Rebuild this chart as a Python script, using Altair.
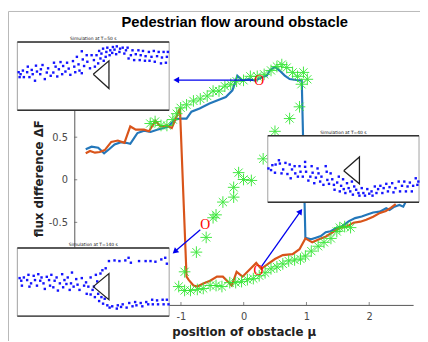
import altair as alt
import pandas as pd

# ---------------- main curves (position of obstacle mu, flux difference dF) ----------------
blue_mu = [-2.518, -2.424, -2.319, -2.225, -2.136, -2.058, -1.955, -1.876, -1.808, -1.745,
           -1.693, -1.588, -1.485, -1.380, -1.275, -1.197, -1.099, -1.005, -0.911, -0.833,
           -0.703, -0.546, -0.415, -0.285, -0.180, -0.102, -0.023, 0.080, 0.185, 0.290,
           0.368, 0.419, 0.498, 0.576, 0.654, 0.732, 0.837, 0.925,
           0.983, 1.072, 1.150, 1.229, 1.307, 1.385, 1.488, 1.567, 1.671, 1.776,
           1.880, 1.958, 2.063, 2.168, 2.271, 2.324, 2.402, 2.481, 2.543, 2.595]
blue_dF = [0.358, 0.388, 0.376, 0.311, 0.364, 0.415, 0.442, 0.434, 0.422, 0.491,
           0.549, 0.577, 0.561, 0.588, 0.607, 0.626, 0.707, 0.719, 0.719, 0.799,
           0.837, 0.895, 0.934, 0.972, 1.050, 1.223, 1.165, 1.183, 1.165, 1.203,
           1.223, 1.287, 1.326, 1.280, 1.223, 1.183, 1.172, 1.165,
           -0.681, -0.700, -0.681, -0.662, -0.616, -0.604, -0.565, -0.547, -0.489, -0.450,
           -0.431, -0.412, -0.385, -0.374, -0.334, -0.354, -0.316, -0.296, -0.316, -0.239]

orange_mu = [-2.518, -2.449, -2.371, -2.293, -2.214, -2.111, -2.006, -1.901, -1.808, -1.720,
             -1.588, -1.510, -1.407, -1.329, -1.224, -1.146, -1.016,
             -0.911, -0.880, -0.801, -0.739, -0.645, -0.535, -0.426, -0.332, -0.254, -0.191,
             -0.113, -0.019, 0.091, 0.200, 0.279, 0.388, 0.498, 0.623, 0.779, 0.889,
             0.983, 1.092, 1.202, 1.311, 1.437, 1.546, 1.640, 1.750, 1.859, 1.953,
             2.063, 2.172, 2.266, 2.344, 2.423]
orange_dF = [0.311, 0.338, 0.318, 0.326, 0.349, 0.445, 0.461, 0.434, 0.626, 0.588,
             0.588, 0.569, 0.692, 0.626, 0.638, 0.607, 0.837,
             -1.138, -1.173, -1.242, -1.254, -1.219, -1.185, -1.138, -1.138, -1.196, -1.242,
             -1.081, -1.138, -1.058, -0.977, -1.046, -0.988, -0.931, -0.885, -0.873, -0.815,
             -0.689, -0.735, -0.700, -0.666, -0.608, -0.562, -0.550, -0.504, -0.492, -0.469,
             -0.435, -0.389, -0.366, -0.331, -0.285]

star_mu = [-1.490, -1.412, -1.318, -1.224, -1.130, -1.067, -1.005, -0.911, -0.801, -0.692,
           -0.582, -0.488, -0.394, -0.300, -0.207, -0.113, -0.003, 0.106, 0.216, 0.326,
           0.435, 0.529, 0.607, 0.685, 0.779, 0.858, 0.952, 1.014, 0.920, 0.889,
           0.732, 0.498, 0.310, 0.122, -0.003, -0.081, -0.160, -0.160, -0.332, -0.441,
           -0.488, -0.598, -0.754, -0.942, -1.036, -0.942, -0.848, -0.739, -0.645, -0.535,
           -0.441, -0.347, -0.222, -0.128, -0.034, 0.059, 0.153, 0.247, 0.341, 0.435,
           0.529, 0.623, 0.717, 0.811, 0.905, 0.983, 1.077, 1.186, 1.280, 1.390,
           1.484, 1.531, 1.609, 1.703]
star_dF = [0.661, 0.684, 0.638, 0.638, 0.707, 0.776, 0.845, 0.880, 0.926, 0.949,
           0.984, 1.042, 1.042, 1.099, 1.122, 1.157, 1.168, 1.215, 1.215, 1.238,
           1.284, 1.330, 1.353, 1.318, 1.261, 1.215, 1.261, 1.180, 1.122, 0.857,
           0.719, 0.569, 0.246, -0.008, 0.003, 0.084, -0.089, -0.204, -0.262, -0.412,
           -0.446, -0.677, -0.850, -1.081, -1.254, -1.300, -1.300, -1.288, -1.277, -1.242,
           -1.242, -1.254, -1.208, -1.208, -1.196, -1.173, -1.161, -1.127, -1.092, -1.046,
           -1.023, -0.988, -0.954, -0.942, -0.931, -0.896, -0.838, -0.781, -0.735, -0.689,
           -0.608, -0.562, -0.550, -0.562]

# red "O" markers and arrows pointing to the snapshots
o_mu = [0.247, -0.613, 0.236]
o_dF = [1.165, -0.527, -1.077]
arrow_id = [1, 1, 2, 2, 3, 3]
arrow_mu = [0.153, -1.075, -0.692, -1.097, 0.279, 0.905]
arrow_dF = [1.171, 1.171, -0.587, -0.843, -1.023, -0.371]
head_mu = [-1.075, -1.097, 0.905]
head_dF = [1.171, -0.843, -0.371]
head_angle = [270, 229, 35]

x_ticks = [-1, 0, 1, 2]
y_ticks = [-1, -0.5, 0, 0.5, 1, 1.5]

# ---------------- inset snapshots (pedestrian positions) ----------------
A_x = [0.4, 1.0, 0.7, 2.0, 1.7, 3.2, 3.0, 3.7, 4.7, 4.4,
       5.4, 5.7, 6.0, 7.0, 7.2, 7.7, 8.4, 9.0, 9.4, 10.2,
       11.0, 11.2, 11.7, 12.2, 12.7, 13.2, 13.7, 14.0, 14.7, 15.2,
       15.7, 16.2, 17.0, 17.4, 17.7, 18.2, 18.7, 19.0, 19.7, 19.7,
       20.0, 20.4, 21.2, 21.4, 22.2, 22.7, 23.4, 23.7, 24.2, 24.7,
       25.0, 25.4, 25.7, 26.2, 26.4, 27.0, 27.2, 27.5, 28.2, 28.4,
       29.0, 29.2, 29.7, 30.2, 30.4, 31.2, 31.4, 32.2, 32.7, 33.2,
       33.7, 34.0, 34.7, 35.2, 35.7, 36.2, 37.0, 37.4, 37.7, 38.4,
       39.0, 39.2, 40.2, 40.4, 41.0, 41.7, 42.0, 42.7, 43.2, 43.9,
       44.2, 44.7, 45.4, 45.7, 46.0]
A_y = [11.6, 11.0, 10.1, 10.1, 12.1, 13.3, 11.6, 10.1, 11.0, 12.3,
       9.0, 13.6, 11.8, 11.0, 12.5, 13.8, 9.5, 11.5, 12.8, 10.5,
       11.5, 14.5, 13.3, 10.3, 12.5, 14.7, 11.0, 13.5, 11.8, 14.5,
       12.7, 10.8, 15.0, 13.3, 11.6, 16.3, 14.0, 12.1, 11.3, 18.0,
       15.5, 13.5, 16.8, 14.8, 12.8, 16.8, 15.3, 13.3, 16.8, 14.3,
       18.1, 15.8, 17.3, 18.8, 15.1, 16.3, 17.8, 19.1, 16.8, 18.3,
       17.5, 19.3, 18.5, 17.1, 19.5, 17.8, 18.8, 19.1, 17.3, 18.3,
       19.1, 15.8, 16.8, 18.3, 15.3, 17.1, 18.3, 15.3, 16.8, 18.1,
       15.1, 16.5, 17.8, 15.1, 16.3, 18.1, 14.8, 16.5, 17.8, 14.3,
       16.1, 17.8, 14.5, 16.3, 17.8]
A_tri_x = [23.2, 28.0, 28.0, 23.2]
A_tri_y = [11.0, 15.1, 6.6, 11.0]

B_x = [0.2, 1.0, 1.4, 2.4, 2.2, 3.4, 3.7, 4.2, 4.7, 5.4,
       6.0, 6.7, 7.0, 7.4, 8.2, 8.4, 9.2, 9.7, 10.0, 10.7,
       11.4, 11.4, 11.7, 12.4, 13.0, 13.4, 13.7, 14.2, 14.7, 15.2,
       15.5, 16.0, 16.4, 17.0, 17.7, 18.0, 18.2, 18.7, 19.2, 19.7,
       20.2, 20.4, 21.2, 21.7, 22.0, 22.4, 23.0, 23.2, 23.7, 24.2,
       24.7, 25.2, 25.7, 26.0, 26.4, 27.0, 27.7, 28.0, 28.7, 29.2,
       29.7, 30.4, 31.0, 31.7, 32.0, 32.7, 33.2, 33.7, 34.4, 35.0,
       35.4, 36.2, 36.7, 37.2, 38.0, 38.4, 39.0, 40.0, 40.4, 41.0,
       41.7, 42.2, 42.7, 43.4, 44.0, 44.4, 45.2, 45.7, 46.0]
B_y = [10.3, 9.8, 11.3, 11.5, 9.0, 12.8, 11.8, 8.8, 10.0, 12.0,
       8.6, 11.5, 7.3, 10.0, 11.0, 8.8, 7.8, 11.0, 9.3, 7.8,
       12.3, 10.8, 9.3, 6.6, 7.8, 11.0, 9.0, 5.8, 7.5, 10.3,
       8.8, 6.3, 7.8, 5.3, 11.0, 9.3, 6.8, 5.6, 8.8, 7.0,
       5.3, 3.8, 6.0, 7.8, 3.3, 5.0, 7.0, 4.0, 2.8, 5.8,
       4.3, 3.3, 6.3, 2.3, 4.8, 3.8, 2.8, 2.0, 4.3, 2.8,
       2.0, 4.0, 2.6, 3.3, 2.0, 4.8, 2.8, 4.0, 5.0, 2.8,
       4.3, 5.6, 3.3, 4.6, 5.8, 3.0, 4.3, 6.3, 3.3, 5.0,
       6.3, 3.3, 4.8, 6.0, 3.3, 5.0, 7.3, 5.3, 6.3]
B_tri_x = [23.2, 28.0, 28.0, 23.2]
B_tri_y = [9.6, 13.8, 5.6, 9.6]

C_x = [0.7, 1.2, 1.4, 2.0, 3.0, 3.4, 3.7, 4.2, 5.0, 5.4,
       6.0, 6.4, 7.0, 7.4, 8.0, 8.4, 9.0, 9.7, 10.0, 10.4,
       11.0, 11.4, 12.0, 12.4, 13.0, 13.7, 14.0, 14.4, 15.0, 15.4,
       16.0, 16.4, 16.7, 17.2, 18.0, 18.4, 19.0, 19.7, 20.4, 21.0,
       21.2, 21.7, 22.4, 22.4, 23.0, 23.4, 23.7, 24.0, 24.4, 24.7,
       25.0, 25.4, 25.7, 26.0, 26.2, 26.7, 27.0, 27.5, 28.0, 28.2,
       29.0, 29.7, 30.4, 30.7, 31.2, 31.7, 32.2, 33.0, 33.4, 34.0,
       34.2, 34.7, 35.2, 36.0, 36.4, 37.2, 37.7, 38.2, 39.2, 39.4,
       40.0, 40.7, 41.2, 41.4, 42.2, 42.7, 43.0, 44.0, 44.4, 44.7,
       45.2, 45.7, 45.7, 46.2]
C_y = [11.6, 10.8, 9.3, 11.8, 11.0, 12.6, 9.0, 10.0, 12.3, 11.0,
       9.3, 12.8, 10.8, 11.8, 10.0, 8.3, 12.0, 11.0, 9.3, 12.6,
       8.8, 10.8, 11.8, 7.8, 10.0, 12.8, 8.8, 11.0, 9.8, 11.8,
       8.0, 10.0, 13.3, 9.0, 11.3, 9.6, 8.0, 11.6, 9.3, 10.3,
       6.8, 9.0, 11.8, 6.6, 8.0, 9.0, 5.8, 12.6, 10.6, 6.8,
       4.6, 13.0, 5.8, 14.0, 3.8, 5.3, 14.6, 3.3, 16.8, 2.6,
       3.0, 17.0, 2.3, 3.3, 16.8, 2.8, 3.6, 17.0, 2.6, 17.8,
       4.0, 16.3, 3.0, 4.3, 3.3, 16.8, 4.0, 3.0, 16.8, 4.3,
       3.6, 16.8, 5.0, 3.6, 16.6, 4.8, 3.6, 17.3, 5.0, 3.6,
       17.8, 16.0, 5.0, 3.6]
C_tri_x = [23.2, 28.0, 28.0, 23.2]
C_tri_y = [9.0, 13.0, 5.0, 9.0]

# ---------------- layout ----------------
W, H = 345, 258
XS = alt.Scale(domain=[-2.7, 2.7], nice=False, zero=False)
YS = alt.Scale(domain=[-1.47, 1.506], nice=False, zero=False)
LEXPR = "datum.value < 0 ? '-' + format(-datum.value, '~g') : format(datum.value, '~g')"

AX = alt.Axis(values=x_ticks, title="position of obstacle μ", grid=False, ticks=False, tickSize=0,
              labelPadding=7, labelFont="DejaVu Sans", labelFontSize=10, labelColor="#4a4a4a",
              domainColor="#555555", domainWidth=1, labelExpr=LEXPR,
              titleFont="DejaVu Sans", titleFontSize=12, titleFontWeight="bold", titleColor="#222222",
              titleBaseline="alphabetic", titleY=31)
AY = alt.Axis(values=y_ticks, title="flux difference ΔF", grid=False, ticks=False, tickSize=0,
              labelPadding=7, labelFont="DejaVu Sans", labelFontSize=10, labelColor="#4a4a4a",
              domainColor="#555555", domainWidth=1, labelExpr=LEXPR,
              titleFont="DejaVu Sans", titleFontSize=12, titleFontWeight="bold", titleColor="#222222",
              titleAngle=270, titleX=-32, titleY=129, titleAlign="center", titleBaseline="alphabetic")


def MX():
    return alt.X("mu:Q", scale=XS, axis=AX)


def MY():
    return alt.Y("dF:Q", scale=YS, axis=AY)


one = pd.DataFrame({"a": [0]})

frame = alt.Chart(one).mark_rect(fillOpacity=0, stroke="#b8b8b8", strokeWidth=1).encode(
    x=alt.value(-67), x2=alt.value(420), y=alt.value(-40.8), y2=alt.value(400))

title = alt.Chart(one).mark_text(text="Pedestrian flow around obstacle", font="Liberation Sans",
                                 fontSize=15, fontWeight="bold", align="center",
                                 baseline="alphabetic", color="black").encode(
    x=alt.value(163.3), y=alt.value(-25.3))

xt = alt.Chart(pd.DataFrame({"mu": x_ticks})).mark_tick(
    orient="vertical", size=3, thickness=1, color="#555555").encode(x=MX(), y=alt.value(H - 1.5))
yt = alt.Chart(pd.DataFrame({"dF": y_ticks})).mark_tick(
    orient="horizontal", size=3, thickness=1, color="#555555").encode(y=MY(), x=alt.value(1.5))

blue = alt.Chart(pd.DataFrame({"mu": blue_mu, "dF": blue_dF, "i": list(range(len(blue_mu)))})).mark_line(
    color="#2377ba", strokeWidth=2.2).encode(x=MX(), y=MY(), order="i:Q")
orange = alt.Chart(pd.DataFrame({"mu": orange_mu, "dF": orange_dF, "i": list(range(len(orange_mu)))})).mark_line(
    color="#d9541a", strokeWidth=2.2).encode(x=MX(), y=MY(), order="i:Q")
stars = alt.Chart(pd.DataFrame({"mu": star_mu, "dF": star_dF})).mark_point(
    shape="M-1,0L1,0M0,-1L0,1M-0.7,-0.7L0.7,0.7M-0.7,0.7L0.7,-0.7",
    size=140, filled=False, color="#2fe52f", strokeWidth=1, opacity=0.9).encode(x=MX(), y=MY())
arrows = alt.Chart(pd.DataFrame({"mu": arrow_mu, "dF": arrow_dF, "g": arrow_id})).mark_line(
    color="#0000ee", strokeWidth=1.3).encode(x=MX(), y=MY(), detail="g:N")
heads = alt.Chart(pd.DataFrame({"mu": head_mu, "dF": head_dF, "ang": head_angle})).mark_point(
    shape="triangle-up", filled=True, size=45, color="#0000ee", opacity=1).encode(
    x=MX(), y=MY(), angle=alt.Angle("ang:Q", scale=None))
circles = alt.Chart(pd.DataFrame({"mu": o_mu, "dF": o_dF})).mark_text(
    text="O", font="Liberation Serif", fontSize=14, color="#ff0000", align="center",
    baseline="middle").encode(x=MX(), y=MY())

main = alt.layer(frame, title, xt, yt, blue, orange, stars, arrows, heads, circles)


def make_inset(dx, dy, tx, ty, w, h, xr, yr, label):
    xs = alt.Scale(domain=[0, w], range=xr, nice=False, zero=False)
    ys = alt.Scale(domain=[0, h], range=yr, nice=False, zero=False)

    def X(f):
        return alt.X(f, scale=xs, axis=None)

    def Y(f):
        return alt.Y(f, scale=ys, axis=None)

    box = pd.DataFrame({"sx": [0.0], "sx2": [w], "sy": [0.0], "sy2": [h], "mx": [w / 2]})
    bg = alt.Chart(box).mark_rect(fill="white", stroke="#a0a0a0", strokeWidth=1).encode(
        x=X("sx:Q"), x2="sx2:Q", y=Y("sy:Q"), y2="sy2:Q")
    edges = alt.Chart(pd.DataFrame({"sx": [0.0, 0.0], "sx2": [w, w], "sy": [0.0, h]})).mark_rule(
        color="#333333", strokeWidth=1.5).encode(x=X("sx:Q"), x2="sx2:Q", y=Y("sy:Q"))
    dots = alt.Chart(pd.DataFrame({"sx": dx, "sy": dy})).mark_square(
        size=6, color="#1414ff", opacity=1).encode(x=X("sx:Q"), y=Y("sy:Q"))
    tri = alt.Chart(pd.DataFrame({"sx": tx, "sy": ty, "k": list(range(len(tx)))})).mark_line(
        color="#222222", strokeWidth=1.3).encode(x=X("sx:Q"), y=Y("sy:Q"), order="k:Q")
    ttl = alt.Chart(box).mark_text(text=label, font="DejaVu Sans", fontSize=4.5, baseline="bottom",
                                   dy=-1, color="#111111").encode(x=X("mx:Q"), y=Y("sy2:Q"))
    return alt.layer(bg, edges, dots, tri, ttl)


inset_A = make_inset(A_x, A_y, A_tri_x, A_tri_y, 46.4, 20.8, [-58.0, 96.6], [59.7, -9.6],
                     "Simulation at T=50 s")
inset_B = make_inset(B_x, B_y, B_tri_x, B_tri_y, 46.2, 20.3, [197.0, 351.0], [153.4, 85.7],
                     "Simulation at T=40 s")
inset_C = make_inset(C_x, C_y, C_tri_x, C_tri_y, 46.4, 20.8, [-58.0, 96.6], [269.4, 200.0],
                     "Simulation at T=140 s")

chart = alt.layer(main, inset_A, inset_B, inset_C).resolve_scale(
    x="independent", y="independent"
).properties(
    width=W, height=H,
    autosize=alt.AutoSizeParams(type="none"),
    padding={"left": 67.5, "top": 41.3, "right": 7, "bottom": 34},
    background="white",
).configure_view(strokeWidth=0)

chart.save("out.html", embed_options={"renderer": "svg", "actions": False})
